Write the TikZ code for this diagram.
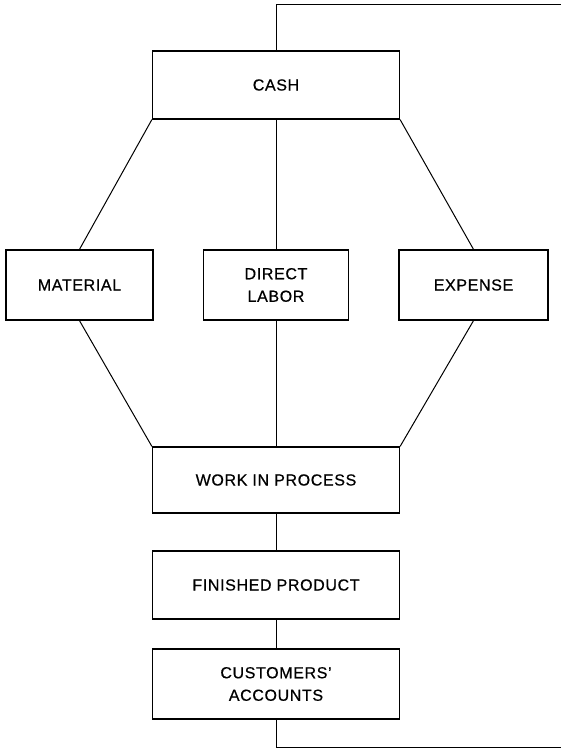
\documentclass[tikz,border=0pt]{standalone}
\usepackage{fontspec}
\setmainfont{Liberation Sans}[LetterSpace=4, FakeBold=0.6]
\begin{document}
\begin{tikzpicture}[x=1pt,y=-1pt,
  acct/.style={draw, line width=1.3pt, rectangle, inner sep=0pt,
    align=center, font=\fontsize{16}{22.5}\selectfont},
  flow/.style={line width=1pt}]
  \useasboundingbox (0,0) rectangle (560,749);

  % account boxes
  \node[acct, minimum width=247, minimum height=68] (cash) at (276,85) {CASH};
  \node[acct, minimum width=147, minimum height=70] (mat) at (79.5,285) {MATERIAL};
  \node[acct, minimum width=145, minimum height=70] (lab) at (276,285) {DIRECT\\LABOR};
  \node[acct, minimum width=149, minimum height=70] (exp) at (473.5,285) {EXPENSE};
  \node[acct, minimum width=247, minimum height=66] (wip) at (276,480) {WORK IN PROCESS};
  \node[acct, minimum width=247, minimum height=68] (fin) at (276,585) {FINISHED PRODUCT};
  \node[acct, minimum width=247, minimum height=70] (cus) at (276,684) {CUSTOMERS'\\ACCOUNTS};

  % return loop ends
  \coordinate (top) at (276,5);
  \coordinate (topr) at (561,5);
  \coordinate (bot) at (276,747.5);
  \coordinate (botr) at (561,747.5);

  % flows
  \draw[flow] (cash.north) -- (top) -- (topr);
  \draw[flow] (cash.south west) -- (mat.north);
  \draw[flow] (cash.south) -- (lab.north);
  \draw[flow] (cash.south east) -- (exp.north);
  \draw[flow] (mat.south) -- (wip.north west);
  \draw[flow] (lab.south) -- (wip.north);
  \draw[flow] (exp.south) -- (wip.north east);
  \draw[flow] (wip.south) -- (fin.north);
  \draw[flow] (fin.south) -- (cus.north);
  \draw[flow] (cus.south) -- (bot) -- (botr);
\end{tikzpicture}
\end{document}
